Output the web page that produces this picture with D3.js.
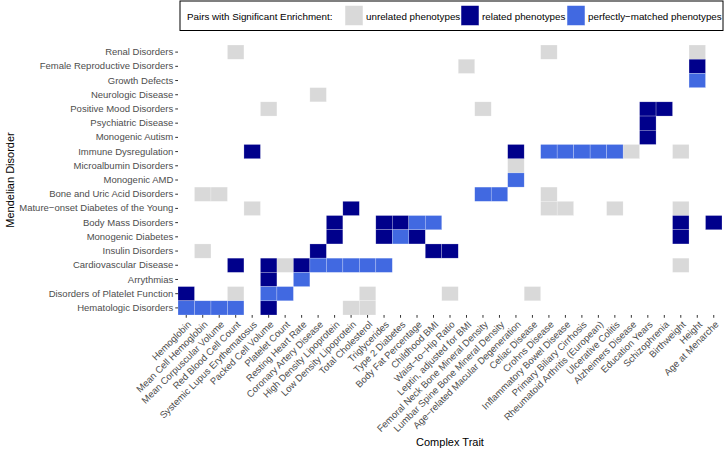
<!DOCTYPE html>
<html><head><meta charset="utf-8">
<script src="https://cdn.jsdelivr.net/npm/d3@7"></script>
<style>body{margin:0;background:#fff;} text{font-family:"Liberation Sans",Arial,sans-serif;}</style>
</head><body><svg id="c" width="726" height="453"></svg>
<script>
const traits = ["Hemoglobin","Mean Cell Hemoglobin","Mean Corpuscular Volume","Red Blood Cell Count","Systemic Lupus Erythematosus","Packed Cell Volume","Platelet Count","Resting Heart Rate","Coronary Artery Disease","High Density Lipoprotein","Low Density Lipoprotein","Total Cholesterol","Triglycerides","Type 2 Diabetes","Body Fat Percentage","Childhood BMI","Waist\u2212to\u2212Hip Ratio","Leptin, adjusted for BMI","Femoral Neck Bone Mineral Density","Lumbar Spine Bone Mineral Density","Age\u2212related Macular Degeneration","Celiac Disease","Crohns Disease","Inflammatory Bowel Disease","Primary Biliary Cirrhosis","Rheumatoid Arthritis (European)","Ulcerative Colitis","Alzheimers Disease","Education Years","Schizophrenia","Birthweight","Height","Age at Menarche"];
const disorders = ["Renal Disorders","Female Reproductive Disorders","Growth Defects","Neurologic Disease","Positive Mood Disorders","Psychiatric Disease","Monogenic Autism","Immune Dysregulation","Microalbumin Disorders","Monogenic AMD","Bone and Uric Acid Disorders","Mature\u2212onset Diabetes of the Young","Body Mass Disorders","Monogenic Diabetes","Insulin Disorders","Cardiovascular Disease","Arrythmias","Disorders of Platelet Function","Hematologic Disorders"];
const categories = ["unrelated phenotypes","related phenotypes","perfectly\u2212matched phenotypes"];
const categoryColors = ["#D9D9D9","#00008B","#4169E1"];

// [disorder index, trait index]
const unrelatedPairs = [[0,3],[0,22],[0,31],[1,17],[3,8],[4,5],[4,18],[7,27],[7,30],[8,20],[10,1],[10,2],[10,22],[11,4],[11,22],[11,23],[11,26],[11,30],[14,1],[15,6],[15,30],[17,3],[17,11],[17,16],[17,21],[18,10],[18,11]];
const relatedPairs = [[1,31],[4,28],[4,29],[5,28],[6,28],[7,4],[7,20],[11,10],[12,9],[12,12],[12,13],[12,30],[12,32],[13,9],[13,12],[13,14],[13,30],[14,8],[14,15],[14,16],[15,3],[15,5],[15,7],[16,5],[17,0],[18,5]];
const perfectPairs = [[2,31],[7,22],[7,23],[7,24],[7,25],[7,26],[9,20],[10,18],[10,19],[12,14],[12,15],[13,13],[15,8],[15,9],[15,10],[15,11],[15,12],[16,7],[17,5],[17,6],[18,0],[18,1],[18,2],[18,3]];

const svg = d3.select("#c");
const x = d3.scaleBand().domain(traits).range([178,722]).padding(0);
const y = d3.scaleBand().domain(disorders).range([45,315]).padding(0);
const color = d3.scaleOrdinal().domain(categories).range(categoryColors);

const cells = [];
[unrelatedPairs, relatedPairs, perfectPairs].forEach((arr,k)=>arr.forEach(p=>cells.push({d:disorders[p[0]],t:traits[p[1]],c:categories[k]})));

svg.append("g").selectAll("rect").data(cells).join("rect")
  .attr("x",d=>x(d.t)).attr("y",d=>y(d.d))
  .attr("width",x.bandwidth()).attr("height",y.bandwidth())
  .attr("fill",d=>color(d.c))
  .attr("stroke","#ffffff").attr("stroke-opacity",0.45).attr("stroke-width",0.5);

// axes
const yAxis = svg.append("g").attr("transform","translate(178,0)")
  .call(d3.axisLeft(y).tickSize(2.75).tickPadding(2));
yAxis.select(".domain").remove();
yAxis.selectAll("line").attr("stroke","#333333");
yAxis.selectAll("text").attr("fill","#4D4D4D").style("font-size","9.5px").style("font-family","Liberation Sans, Arial, sans-serif");

const xAxis = svg.append("g").attr("transform","translate(0,315)")
  .call(d3.axisBottom(x).tickSize(2.75).tickPadding(2));
xAxis.select(".domain").remove();
xAxis.selectAll("line").attr("stroke","#333333");
xAxis.selectAll("text").attr("fill","#4D4D4D").style("font-size","9.5px").style("font-family","Liberation Sans, Arial, sans-serif")
  .attr("text-anchor","end").attr("dy",null).attr("y",null)
  .attr("transform","translate(1.5,6) rotate(-45)").attr("dy","0.6em");

// axis titles
svg.append("text").attr("x",450).attr("y",446).attr("text-anchor","middle")
  .style("font-size","11px").attr("fill","#000").text("Complex Trait");
svg.append("text").attr("transform","translate(14,180) rotate(-90)").attr("text-anchor","middle")
  .style("font-size","11px").attr("fill","#000").text("Mendelian Disorder");

// legend
const lg = svg.append("g");
lg.append("rect").attr("x",180).attr("y",1).attr("width",543).attr("height",29.5)
  .attr("fill","#fff").attr("stroke","#000").attr("stroke-width",1);
lg.append("text").attr("x",187).attr("y",19.5).style("font-size","9.8px").text("Pairs with Significant Enrichment:");
const keyX = [345,461,567];
categories.forEach((c,i)=>{
  lg.append("rect").attr("x",keyX[i]).attr("y",5.5).attr("width",18).attr("height",20)
    .attr("fill",color(c)).attr("stroke","#fff").attr("stroke-width",0.5);
  lg.append("text").attr("x",keyX[i]+21).attr("y",19.5).style("font-size","9.8px").text(c);
});
</script></body></html>
